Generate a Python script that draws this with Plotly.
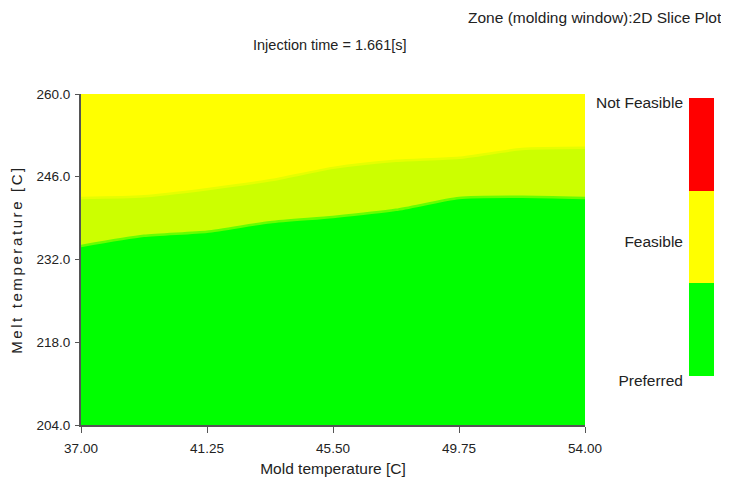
import plotly.graph_objects as go

# ---- data ----
mold_temp = [37.0, 39.125, 41.25, 43.375, 45.5, 47.625, 49.75, 51.875, 54.0]
preferred_top = [234.3, 236.0, 236.7, 238.3, 239.2, 240.4, 242.4, 242.6, 242.4]
marginal_top = [242.4, 242.7, 243.9, 245.4, 247.5, 248.7, 249.2, 250.7, 250.9]

x_ticks = [37.0, 41.25, 45.5, 49.75, 54.0]
y_ticks = [204.0, 218.0, 232.0, 246.0, 260.0]
x_range = [37.0, 54.0]
y_range = [204.0, 260.0]

zone_labels = ["Preferred", "Feasible", "Not Feasible"]
zone_colors = ["#00FF00", "#FFFF00", "#FF0000"]
zone_sizes = [1, 1, 1]

GREEN = "#00FF00"
BAND = "#CCFF00"
YELLOW = "#FFFF00"
TXT = "#222222"
AX = "#555555"

fig = go.Figure()

# preferred (green) zone
fig.add_trace(go.Scatter(x=mold_temp, y=preferred_top, mode="lines", fill="tozeroy",
                         fillcolor=GREEN, line=dict(width=0, shape="spline", smoothing=0.6),
                         hoverinfo="skip", showlegend=False))
# intermediate band
fig.add_trace(go.Scatter(x=mold_temp, y=marginal_top, mode="lines", fill="tonexty",
                         fillcolor=BAND, line=dict(width=0, shape="spline", smoothing=0.6),
                         hoverinfo="skip", showlegend=False))
# soft edges
fig.add_trace(go.Scatter(x=mold_temp, y=preferred_top, mode="lines",
                         line=dict(width=2.5, color="#66FF00", shape="spline", smoothing=0.6),
                         hoverinfo="skip", showlegend=False))
fig.add_trace(go.Scatter(x=mold_temp, y=marginal_top, mode="lines",
                         line=dict(width=2.5, color="#E6FF00", shape="spline", smoothing=0.6),
                         hoverinfo="skip", showlegend=False))

# zone scale (stacked bar on secondary axes)
for lab, col, sz in zip(zone_labels, zone_colors, zone_sizes):
    fig.add_trace(go.Bar(x=[0], y=[sz], width=1, marker=dict(color=col, line=dict(width=0)),
                         name=lab, xaxis="x2", yaxis="y2", hoverinfo="skip",
                         showlegend=False))

font_main = "Liberation Sans, Arial, sans-serif"
OFF = 8                      # page body margin of the browser
W, H = 729 - OFF, 479 - OFF
L, T = 81 - OFF, 94 - OFF
B = H - (425 - OFF)
R = 2
PW, PH = W - L - R, H - T - B


def px(sx):
    return (sx - OFF - L) / PW


def py(sy):
    return (425 - sy) / PH


# zone scale geometry: bar spans screen y 98..376, labels sit ~5 px lower
total = sum(zone_sizes)
unit_px = (376 - 98) / total
pad = 12 / unit_px            # room below the bar so the lowest label fits
shift = 5 / unit_px
scale_bottom = 376 + 12

fig.update_layout(
    width=W, height=H,
    margin=dict(l=L, r=R, t=T, b=B, autoexpand=False),
    paper_bgcolor="white",
    plot_bgcolor="rgba(0,0,0,0)",
    barmode="stack",
    font=dict(family=font_main, size=13, color=TXT),
    shapes=[dict(type="rect", xref="x domain", yref="y domain", x0=0, x1=1, y0=0, y1=1,
                 fillcolor=YELLOW, line=dict(width=0), layer="below")],
    xaxis=dict(domain=[0, px(585)], range=x_range, tickvals=x_ticks, tickformat=".2f",
               showgrid=False, zeroline=False, showline=True, linecolor=AX, linewidth=2,
               ticks="outside", ticklen=6, tickcolor=AX, tickwidth=1, ticklabelstandoff=4,
               tickfont=dict(size=13.5, color=TXT), automargin=False,
               title=dict(text="Mold temperature [C]", standoff=8,
                          font=dict(family=font_main, size=15.5, color=TXT))),
    yaxis=dict(domain=[0, 1], range=y_range, tickvals=y_ticks, tickformat=".1f",
               showgrid=False, zeroline=False, showline=True, linecolor=AX, linewidth=2,
               ticks="outside", ticklen=4, tickcolor=AX, tickwidth=1, ticklabelstandoff=2,
               tickfont=dict(size=13.5, color=TXT), automargin=False,
               title=dict(text='<span style="letter-spacing:2.6px">Melt temperature [C]</span>',
                          standoff=10,
                          font=dict(family=font_main, size=15, color=TXT))),
    xaxis2=dict(domain=[px(689), px(714)], range=[-0.5, 0.5],
                anchor="y2", showticklabels=False, showgrid=False, zeroline=False,
                showline=False, fixedrange=True),
    yaxis2=dict(domain=[py(scale_bottom), py(98)], range=[-pad, total],
                anchor="x2", side="left",
                tickvals=[0 - shift, total / 2 - shift, total - shift],
                ticktext=zone_labels, showgrid=False, zeroline=False, showline=False,
                ticks="", ticklabelstandoff=5, automargin=False,
                tickfont=dict(family=font_main, size=15.5, color=TXT), fixedrange=True),
    annotations=[
        dict(text="Zone (molding window):2D Slice Plot", xref="paper", yref="paper",
             x=px(724), y=py(17), xanchor="right", yanchor="middle",
             showarrow=False, font=dict(family=font_main, size=15.5, color=TXT)),
        dict(text="Injection time = 1.661[s]", xref="paper", yref="paper",
             x=px(330), y=py(45), xanchor="center", yanchor="middle",
             showarrow=False, font=dict(family=font_main, size=14.5, color=TXT)),
    ],
)

fig.write_html("out.html")
